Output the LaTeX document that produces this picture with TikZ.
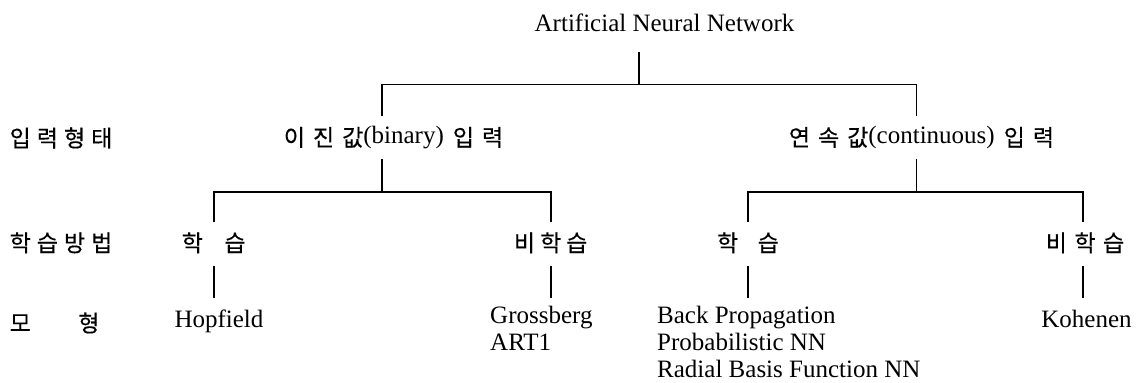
\documentclass[tikz,border=0pt]{standalone}
\usepackage{fontspec}
\setmainfont{Liberation Serif}
\newfontfamily\krfont[FakeBold=0.3]{Noto Sans CJK KR}
\newcommand\kf{\krfont\fontsize{23}{27}\selectfont}
\newcommand\kg[1]{\hspace{#1pt}}
\newcommand\kl[1]{\raisebox{-3pt}{\kf #1}}
\begin{document}
\begin{tikzpicture}[x=1pt,y=-1pt,
  conn/.style={line width=1.6pt, line cap=rect},
  lbl/.style={inner sep=0pt, font=\fontsize{25}{27}\selectfont},
  rowtwo/.style={lbl, anchor=base, text height=28pt, text depth=17pt},
  rowthree/.style={lbl, anchor=base, text height=29.8pt, text depth=15.5pt},
  leaf/.style={lbl, anchor=base, text height=30pt, text depth=5pt},
  leaflist/.style={lbl, anchor=north west, align=left},
  side/.style={lbl, anchor=base west}]
\useasboundingbox (0,0) rectangle (1136,383);
\fill[white] (0,0) rectangle (1136,383);

% side labels
\node[side] (s-in)  at (9.5,146.7) {\kf 입\kg{6}력\kg{6}형\kg{6}태};
\node[side] (s-lrn) at (9.5,251.5) {\kf 학\kg{6}습\kg{6}방\kg{6}법};
\node[side] (s-mdl) at (9.5,331.7) {\kf 모\kg{47.5}형};

% tree nodes
\node[lbl, anchor=base, text height=18pt, text depth=22pt] (root) at (664.5,31) {Artificial Neural Network};
\node[rowtwo] (bin)  at (393.5,143) {\kl{이\kg{8}진\kg{8}값}(binary)\kg{9}\kl{입\kg{8}력}};
\node[rowtwo] (cont) at (921.5,143) {\kl{연\kg{8}속\kg{8}값}(continuous)\kg{9}\kl{입\kg{8}력}};

\node[rowthree] (bl)  at (213.7,251.5) {\kf 학\kg{21.5}습};
\node[rowthree] (bu)  at (550.7,251.5) {\kf 비\kg{5}학\kg{5}습};
\node[rowthree] (cl)  at (748,251.5)   {\kf 학\kg{19.5}습};
\node[rowthree] (cu)  at (1085,251.5)  {\kf 비\kg{7.5}학\kg{7.5}습};

\node[leaf] (hop) at (219,327) {Hopfield};
\node[leaflist] (gro) at (490,297) {\rule{0pt}{26pt}Grossberg\\ART1};
\node[leaflist] (bp)  at (657,297) {\rule{0pt}{26pt}Back Propagation\\Probabilistic NN\\Radial Basis Function NN};
\node[leaf] (koh) at (1086.5,327) {Kohenen};

% junctions
\coordinate (J0) at (638.7,84.3);
\coordinate (J1) at (381.7,191.7);
\coordinate (J2) at (916.6,191.7);
\coordinate (J3) at (1083,0);

% connectors
\draw[conn] (J0 |- root.south) -- (J0);
\draw[conn] (bin.north -| J1) -- (J1 |- J0) -- (J2 |- J0) -- (cont.north -| J2);
\draw[conn] (bin.south -| J1) -- (J1);
\draw[conn] (cont.south -| J2) -- (J2);
\draw[conn] (bl.north) -- (bl.north |- J1) -- (bu.north |- J1) -- (bu.north);
\draw[conn] (cl.north) -- (cl.north |- J2) -- (J3 |- J2) -- (cu.north -| J3);
\draw[conn] (bl.south) -- (bl.south |- hop.north);
\draw[conn] (bu.south) -- (bu.south |- gro.north);
\draw[conn] (cl.south) -- (cl.south |- bp.north);
\draw[conn] (cu.south -| J3) -- (J3 |- koh.north);
\end{tikzpicture}
\end{document}
